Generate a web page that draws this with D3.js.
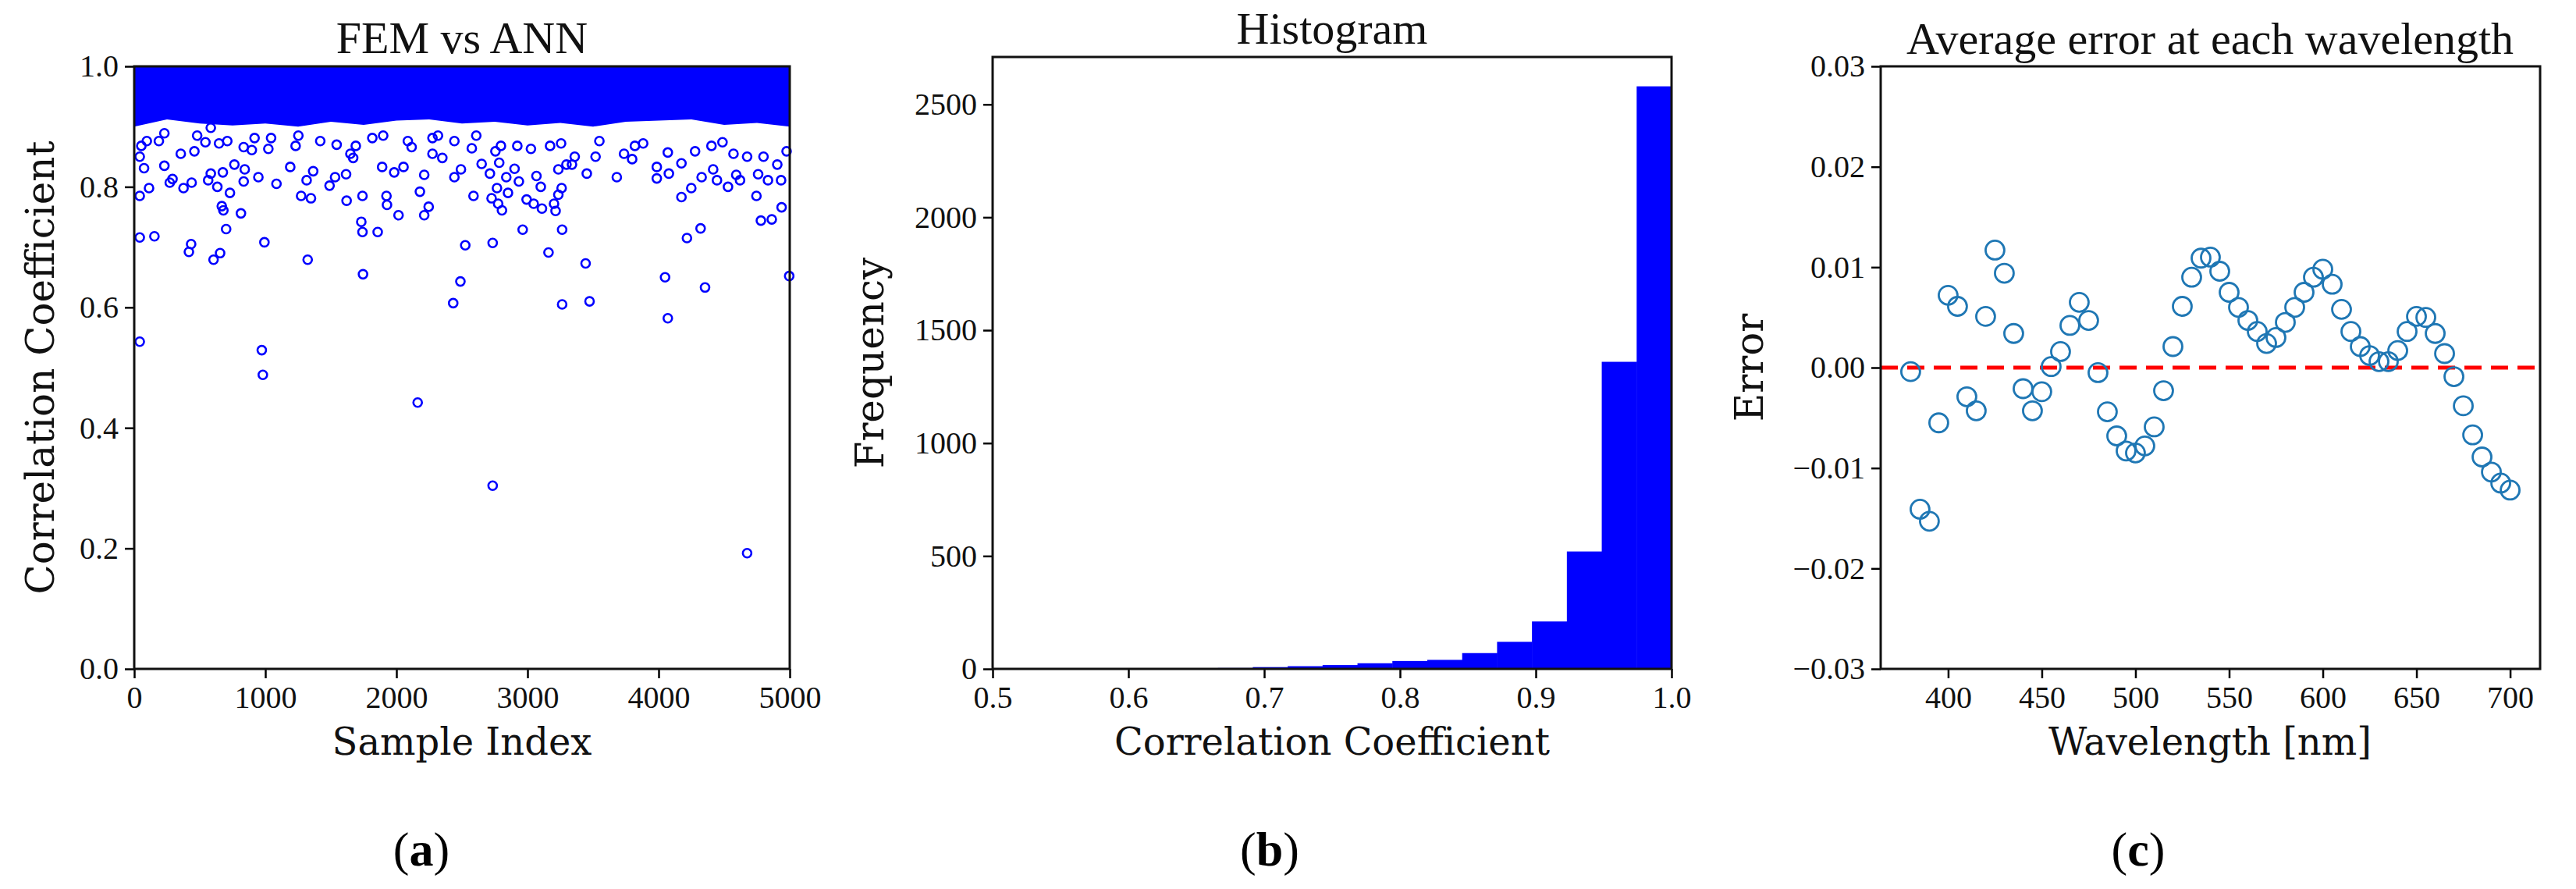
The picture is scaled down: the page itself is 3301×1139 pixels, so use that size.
<!DOCTYPE html>
<html><head><meta charset="utf-8">
<script src="https://cdn.jsdelivr.net/npm/d3@7"></script>
<style>body{margin:0;background:#fff}svg{display:block}</style>
</head><body><svg id="c" width="3301" height="1139"></svg>
<script>
// ---------- DATA ----------
// Panel (a): FEM vs ANN — dense band lower envelope (every 250 samples) and read-off outlier points [index, corr]
const bandIndex = [0,250,500,750,1000,1250,1500,1750,2000,2250,2500,2750,3000,3250,3500,3750,4000,4250,4500,4750,5000];
const bandLower = [0.90,0.912,0.905,0.902,0.905,0.9,0.908,0.903,0.91,0.912,0.905,0.908,0.902,0.906,0.9,0.908,0.91,0.912,0.903,0.906,0.90];
const outliers = [
[42,0.785],[42,0.716],[154,0.718],[42,0.85],[75,0.831],[113,0.798],[230,0.835],[271,0.807],[292,0.813],[376,0.798],
[438,0.807],[417,0.692],[434,0.705],[564,0.811],[584,0.822],[605,0.679],[634,0.80],[655,0.69],[668,0.768],[680,0.761],
[701,0.73],[676,0.824],[730,0.79],[764,0.837],[814,0.756],[835,0.809],[843,0.829],[947,0.816],[973,0.529],[981,0.488],
[993,0.708],[1085,0.805],[1190,0.833],[1273,0.785],[1323,0.679],[1315,0.811],[1348,0.781],[1365,0.826],[1490,0.802],[1532,0.816],
[1620,0.777],[1616,0.821],[1670,0.848],[1732,0.742],[1741,0.725],[1745,0.655],[1741,0.785],[1857,0.725],[1891,0.833],[1924,0.785],
[1928,0.77],[1983,0.824],[2016,0.753],[2054,0.833],[2179,0.792],[2212,0.82],[2212,0.753],[2246,0.767],[2275,0.855],[2350,0.848],
[2442,0.816],[2492,0.829],[2433,0.607],[2488,0.643],[2525,0.703],[2588,0.785],[2650,0.838],[2713,0.822],[2726,0.781],[2734,0.707],
[2767,0.798],[2776,0.772],[2805,0.761],[2784,0.84],[2838,0.816],[2851,0.79],[2901,0.83],[2934,0.809],[2963,0.729],[2993,0.779],
[3047,0.772],[3068,0.818],[3110,0.764],[3101,0.80],[3160,0.691],[3202,0.772],[3214,0.76],[3235,0.787],[3264,0.729],[3260,0.798],
[3264,0.605],[3235,0.829],[3297,0.837],[3339,0.837],[3443,0.673],[3473,0.61],[3452,0.822],[3681,0.816],[3986,0.814],[3986,0.833],
[4049,0.65],[4070,0.582],[4078,0.822],[4174,0.783],[4216,0.715],[4249,0.798],[4320,0.731],[4354,0.633],[4328,0.816],[4416,0.829],
[4445,0.811],[4529,0.80],[4592,0.82],[4621,0.811],[4746,0.785],[4780,0.744],[4759,0.821],[4834,0.811],[4863,0.746],[4938,0.766],
[4934,0.811],[4996,0.652],[42,0.543],[2162,0.442],[2734,0.304],[4675,0.192],
[54,0.868],[96,0.876],[188,0.876],[230,0.889],[355,0.855],[459,0.859],[480,0.885],[543,0.874],[584,0.898],[647,0.872],
[710,0.876],[835,0.866],[897,0.861],[918,0.881],[1023,0.863],[1044,0.881],[1231,0.868],[1252,0.885],[1419,0.876],[1544,0.87],
[1649,0.855],[1690,0.868],[1816,0.881],[1899,0.885],[2087,0.876],[2116,0.866],[2275,0.881],[2317,0.885],[2442,0.876],[2575,0.864],
[2609,0.885],[2755,0.859],[2797,0.868],[2922,0.868],[3026,0.863],[3172,0.868],[3256,0.872],[3360,0.85],[3519,0.85],[3548,0.876],
[3736,0.855],[3798,0.846],[3819,0.868],[3882,0.872],[4070,0.857],[4174,0.839],[4278,0.859],[4403,0.868],[4487,0.874],[4571,0.855],
[4675,0.85],[4800,0.85],[4905,0.837],[4976,0.859]
];
const aXTicks = [0,1000,2000,3000,4000,5000];
const aYTicks = [0,0.2,0.4,0.6,0.8,1.0];

// Panel (b): histogram, bin width 0.0257 ending at 1.0 (counts from right-most bin leftwards)
const binWidth = 0.0257;
const binCounts = [2580,1360,520,210,120,70,40,35,25,17,12,8,4,3,2,2,1,1];
const bXTicks = [0.5,0.6,0.7,0.8,0.9,1.0];
const bYTicks = [0,500,1000,1500,2000,2500];

// Panel (c): average error at each wavelength
const wavelengths = d3.range(380, 701, 5);
const avgError = [-0.0004,-0.0141,-0.0153,-0.0055,0.0072,0.0061,-0.0029,-0.0043,0.0051,0.0117,
0.0094,0.0034,-0.0021,-0.0043,-0.0024,0.0001,0.0016,0.0042,0.0065,0.0047,
-0.0005,-0.0044,-0.0068,-0.0083,-0.0085,-0.0078,-0.0059,-0.0023,0.0021,0.0061,
0.0090,0.0109,0.0110,0.0096,0.0075,0.0060,0.0047,0.0036,0.0024,0.0030,
0.0045,0.0060,0.0075,0.0090,0.0098,0.0083,0.0058,0.0036,0.0021,0.0012,
0.0006,0.0006,0.0017,0.0036,0.0051,0.0050,0.0034,0.0014,-0.0009,-0.0038,
-0.0067,-0.0089,-0.0104,-0.0115,-0.0122];
const cXTicks = [400,450,500,550,600,650,700];
const cYTicks = [-0.03,-0.02,-0.01,0,0.01,0.02,0.03];

// ---------- DRAW ----------
const svg = d3.select("#c");
const TICKF = "'Liberation Serif', serif", LABF = "'DejaVu Serif', serif";

function frame(g, x, y, xt, yt, xfmt, yfmt){
  const xa = d3.axisBottom(x).tickValues(xt).tickFormat(xfmt).tickSizeOuter(0).tickSize(12).tickPadding(10);
  const ya = d3.axisLeft(y).tickValues(yt).tickFormat(yfmt).tickSizeOuter(0).tickSize(12).tickPadding(8);
  const [x0,x1] = x.range(), [y1,y0] = y.range();
  const gx = g.append("g").attr("transform",`translate(0,${y1})`).call(xa);
  const gy = g.append("g").attr("transform",`translate(${x0},0)`).call(ya);
  [gx,gy].forEach(a=>{a.select(".domain").remove();
    a.selectAll("line").attr("stroke","#000").attr("stroke-width",2.5);
    a.selectAll("text").attr("font-family",TICKF).attr("font-size",40).attr("fill","#111");});
  g.append("rect").attr("x",x0).attr("y",y0).attr("width",x1-x0).attr("height",y1-y0)
    .attr("fill","none").attr("stroke","#111").attr("stroke-width",3);
}
function texts(g, title, tx, ty, xl, xlx, xly, yl, ylx, yly, tag, tagx){
  g.append("text").attr("x",tx).attr("y",ty).attr("text-anchor","middle").attr("dominant-baseline","central")
    .attr("font-family",TICKF).attr("font-size",58).attr("fill","#111").text(title);
  g.append("text").attr("x",xlx).attr("y",xly).attr("text-anchor","middle").attr("dominant-baseline","central")
    .attr("font-family",LABF).attr("font-size",48).attr("fill","#111").text(xl);
  g.append("text").attr("transform",`translate(${ylx},${yly}) rotate(-90)`).attr("text-anchor","middle").attr("dominant-baseline","central")
    .attr("font-family",LABF).attr("font-size",50).attr("fill","#111").text(yl);
  const t = g.append("text").attr("x",tagx).attr("y",1088).attr("text-anchor","middle").attr("dominant-baseline","central")
    .attr("font-family",TICKF).attr("font-size",62).attr("fill","#000");
  t.append("tspan").text("(");
  t.append("tspan").attr("font-weight","bold").text(tag);
  t.append("tspan").text(")");
}

// Panel a
{
  const g = svg.append("g");
  const x = d3.scaleLinear().domain([0,5000]).range([172,1012]);
  const y = d3.scaleLinear().domain([0,1]).range([857,85]);
  const band = bandIndex.map((d,i)=>[d,bandLower[i]]);
  g.append("path").datum(band).attr("fill","#0000ff")
    .attr("d", d3.area().x(d=>x(d[0])).y0(y(1)).y1(d=>y(d[1])).curve(d3.curveLinear));
  g.selectAll("circle.o").data(outliers).join("circle").attr("class","o")
    .attr("cx",d=>x(d[0])).attr("cy",d=>y(d[1])).attr("r",5.5)
    .attr("fill","none").attr("stroke","#0000ff").attr("stroke-width",2.6);
  frame(g,x,y,aXTicks,aYTicks,d3.format("d"),d3.format(".1f"));
  texts(g,"FEM vs ANN",592,48,"Sample Index",592,950,"Correlation Coefficient",52,471,"a",540);
}
// Panel b
{
  const g = svg.append("g");
  const x = d3.scaleLinear().domain([0.5,1.0]).range([1272,2142]);
  const y = d3.scaleLinear().domain([0,2710]).range([857,73]);
  const bins = binCounts.map((c,i)=>({lo:1-binWidth*(i+1), hi:1-binWidth*i, c}));
  g.append("clipPath").attr("id","cb").append("rect").attr("x",1272).attr("y",73).attr("width",870).attr("height",784);
  g.append("g").attr("clip-path","url(#cb)").selectAll("rect").data(bins).join("rect")
    .attr("x",d=>x(d.lo)).attr("width",d=>x(d.hi)-x(d.lo)+0.5)
    .attr("y",d=>y(d.c)).attr("height",d=>y(0)-y(d.c)).attr("fill","#0000ff");
  frame(g,x,y,bXTicks,bYTicks,d3.format(".1f"),d3.format("d"));
  texts(g,"Histogram",1707,36,"Correlation Coefficient",1707,950,"Frequency",1115,465,"b",1627);
}
// Panel c
{
  const g = svg.append("g");
  const x = d3.scaleLinear().domain([364,716]).range([2410,3255]);
  const y = d3.scaleLinear().domain([-0.03,0.03]).range([857,85]);
  g.append("line").attr("x1",2410).attr("x2",3255).attr("y1",y(0)).attr("y2",y(0))
    .attr("stroke","#ff0000").attr("stroke-width",5).attr("stroke-dasharray","22,12");
  g.selectAll("circle").data(wavelengths).join("circle")
    .attr("cx",d=>x(d)).attr("cy",(d,i)=>y(avgError[i])).attr("r",12)
    .attr("fill","none").attr("stroke","#1f77b4").attr("stroke-width",2.8);
  frame(g,x,y,cXTicks,cYTicks,d3.format("d"),d=>d3.format(".2f")(d).replace("-","\u2212"));
  texts(g,"Average error at each wavelength",2832,49,"Wavelength [nm]",2832,950,"Error",2242,471,"c",2740);
}
</script></body></html>
